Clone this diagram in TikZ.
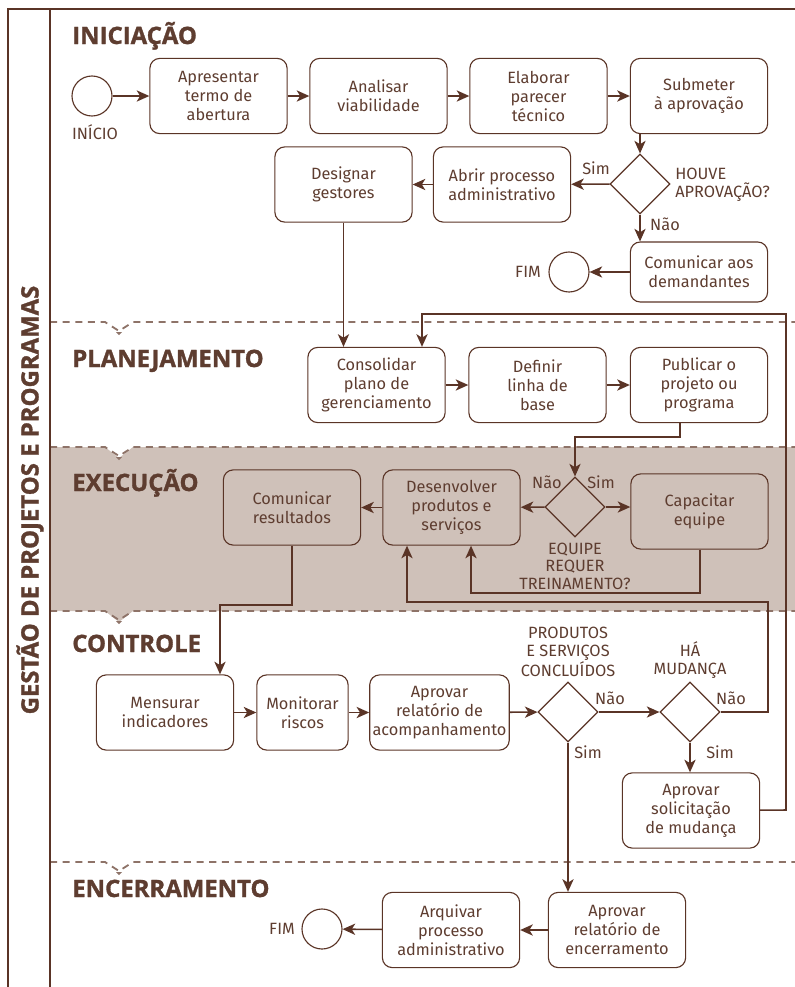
\documentclass[tikz,border=0pt]{standalone}
\usepackage{fontspec}
\setmainfont{Fira Sans}
\newfontfamily\titlefont[BoldFeatures={FakeBold=1.3}]{Open Sans}
\usetikzlibrary{shapes.geometric}
\usetikzlibrary{arrows.meta}
\definecolor{linebrown}{HTML}{5A3426}
\definecolor{textbrown}{HTML}{5E3D30}
\definecolor{dashbrown}{HTML}{8E7368}
\definecolor{bandfill}{HTML}{CFC1B9}
\tikzstyle{task}=[draw=linebrown, line width=0.8pt, rounded corners=7pt, minimum width=3.43cm, minimum height=1.88cm, align=center, text=textbrown, inner sep=2pt, font=\fontsize{11.6}{13.5}\selectfont]
\tikzstyle{gate}=[draw=linebrown, line width=0.8pt, diamond, minimum size=1.5cm, inner sep=0pt]
\tikzstyle{event}=[draw=linebrown, line width=0.8pt, circle, minimum size=1cm, inner sep=0pt]
\tikzstyle{tag}=[text=textbrown, align=center, inner sep=0pt, font=\fontsize{11.6}{12.5}\selectfont]
\tikzstyle{phase}=[text=textbrown, anchor=base west, inner sep=0pt, font=\titlefont\fontsize{17}{20}\selectfont\bfseries]
\tikzstyle{flow}=[draw=linebrown, line width=1.1pt, -{Stealth[length=9pt, width=8pt, inset=2.5pt]}]
\tikzstyle{lane}=[draw=dashbrown, line width=1.3pt, dash pattern=on 5pt off 4pt]

\begin{document}
\begin{tikzpicture}[x=0.025cm, y=-0.025cm]
        \useasboundingbox (0,0) rectangle (795,987);
        \fill[bandfill] (50,447) -- (105,447) -- (119,458) -- (133,447) -- (795,447)
            -- (795,611) -- (133,611) -- (119,622) -- (105,611) -- (50,611) -- cycle;
        \foreach \y in {322, 447, 611, 862} {
            \draw[lane] (50,\y) -- (105,\y) -- (119,\y+9) -- (133,\y) -- (795,\y);
            \fill[dashbrown] (116,\y+10) -- (122,\y+10) -- (119,\y+13) -- cycle;
        }
        \draw[linebrown, line width=1.3pt] (8,987) -- (8,9) -- (795,9);
        \draw[linebrown, line width=1.3pt] (50,9) -- (50,987);
        \node[text=textbrown, rotate=90, inner sep=0pt, font=\titlefont\fontsize{17}{20}\selectfont\bfseries] (lanetitle) at (30,500) {GESTÃO DE PROJETOS E PROGRAMAS};

        \node[phase] (ini) at (72,44)  {INICIAÇÃO};
        \node[phase] (pla) at (72,367) {PLANEJAMENTO};
        \node[phase] (exe) at (72,491) {EXECUÇÃO};
        \node[phase] (ctl) at (72,652) {CONTROLE};
        \node[phase] (enr) at (72,897) {ENCERRAMENTO};

        \node[event] (start) at (92,96) {};
        \node[tag]   (startl) at (95,132) {INÍCIO};
        \node[task]  (apr) at (218.5,96) {Apresentar\\termo de\\abertura};
        \node[task]  (ana) at (378.5,96) {Analisar\\viabilidade};
        \node[task]  (ela) at (538.5,96) {Elaborar\\parecer\\técnico};
        \node[task]  (sub) at (699,96)   {Submeter\\à aprovação};
        \node[gate]  (g1)  at (640,184) {};
        \node[tag, anchor=west, align=left] (g1l) at (675,185) {HOUVE\\APROVAÇÃO?};
        \node[tag]   (g1s) at (596,168) {Sim};
        \node[tag]   (g1n) at (665,224) {Não};
        \node[task]  (abr) at (502,184.5) {Abrir processo\\administrativo};
        \node[task]  (des) at (343.5,184.5) {Designar\\gestores};
        \node[task, minimum height=1.5cm] (com) at (699,272) {Comunicar aos\\demandantes};
        \node[event] (fim1) at (569,272) {};
        \node[tag]   (fim1l) at (528,272) {FIM};

        \node[task]  (con) at (376.5,385) {Consolidar\\plano de\\gerenciamento};
        \node[task]  (def) at (537.5,385) {Definir\\linha de\\base};
        \node[task]  (pub) at (699,385)   {Publicar o\\projeto ou\\programa};

        \node[gate]  (g2)  at (575,507) {};
        \node[tag]   (g2n) at (547,482) {Não};
        \node[tag]   (g2s) at (601,482) {Sim};
        \node[tag]   (g2l) at (575,566) {EQUIPE\\REQUER\\TREINAMENTO?};
        \node[task]  (dev) at (451.5,507.5) {Desenvolver\\produtos e\\serviços};
        \node[task]  (cap) at (699.5,511.5) {Capacitar\\equipe};
        \node[task]  (res) at (292,507.5)   {Comunicar\\resultados};

        \node[task]  (men) at (165,712.5)   {Mensurar\\indicadores};
        \node[task, minimum width=2.28cm] (mon) at (302.5,712.5) {Monitorar\\riscos};
        \node[task]  (rel) at (439.5,712.5) {Aprovar\\relatório de\\acompanhamento};
        \node[gate]  (g3)  at (568,712) {};
        \node[tag]   (g3l) at (568,652) {PRODUTOS\\E SERVIÇOS\\CONCLUÍDOS};
        \node[tag]   (g3n) at (610,698) {Não};
        \node[tag]   (g3s) at (588,752) {Sim};
        \node[gate]  (g4)  at (690,712) {};
        \node[tag]   (g4l) at (690,660) {HÁ\\MUDANÇA};
        \node[tag]   (g4n) at (731,698) {Não};
        \node[tag]   (g4s) at (720,752) {Sim};
        \node[task]  (sol) at (691,810.5) {Aprovar\\solicitação\\de mudança};

        \node[task]  (enc) at (617,930)   {Aprovar\\relatório de\\encerramento};
        \node[task]  (arq) at (451,930)   {Arquivar\\processo\\administrativo};
        \node[event] (fim2) at (322,929) {};
        \node[tag]   (fim2l) at (282,929) {FIM};

        \coordinate (k1)  at (680,437);
        \coordinate (k2)  at (700,593);
        \coordinate (k3)  at (471,593);
        \coordinate (k4)  at (292,605);
        \coordinate (k5)  at (220,605);
        \coordinate (k6)  at (768,712);
        \coordinate (k7)  at (768,602);
        \coordinate (k8)  at (407,602);
        \coordinate (k9)  at (786,810);
        \coordinate (k10) at (786,314);
        \coordinate (k11) at (422,314);

        \draw[flow] (start) -- (apr);
        \draw[flow] (apr) -- (ana);
        \draw[flow] (ana) -- (ela);
        \draw[flow] (ela) -- (sub);
        \draw[flow] (sub.south -| g1) -- (g1);
        \draw[flow] (g1) -- (abr);
        \draw[flow] (abr) -- (des);
        \draw[flow] (g1) -- (g1 |- com.north);
        \draw[flow] (com) -- (fim1);
        \draw[flow] (des) -- (des |- con.north);
        \draw[flow] (con) -- (def);
        \draw[flow] (def) -- (pub);
        \draw[flow] (pub.south -| k1) -- (k1) -| (g2);
        \draw[flow] (g2) -- (dev);
        \draw[flow] (g2) -- (g2 -| cap.west);
        \draw[flow] (dev) -- (res);
        \draw[flow] (cap.south -| k2) -- (k2) -- (k3) -- (k3 |- dev.south);
        \draw[flow] (res.south -| k4) -- (k4) -- (k5) -- (k5 |- men.north);
        \draw[flow] (men) -- (mon);
        \draw[flow] (mon) -- (rel);
        \draw[flow] (rel) -- (g3);
        \draw[flow] (g3) -- (g4);
        \draw[flow] (g4) -- (g4 |- sol.north);
        \draw[flow] (g4) -- (k6) -- (k7) -- (k8) -- (k8 |- dev.south);
        \draw[flow] (sol) -- (k9) -- (k10) -- (k11) -- (k11 |- con.north);
        \draw[flow] (g3) -- (g3 |- enc.north);
        \draw[flow] (enc) -- (arq);
        \draw[flow] (arq) -- (fim2);
    \end{tikzpicture}
\end{document}
